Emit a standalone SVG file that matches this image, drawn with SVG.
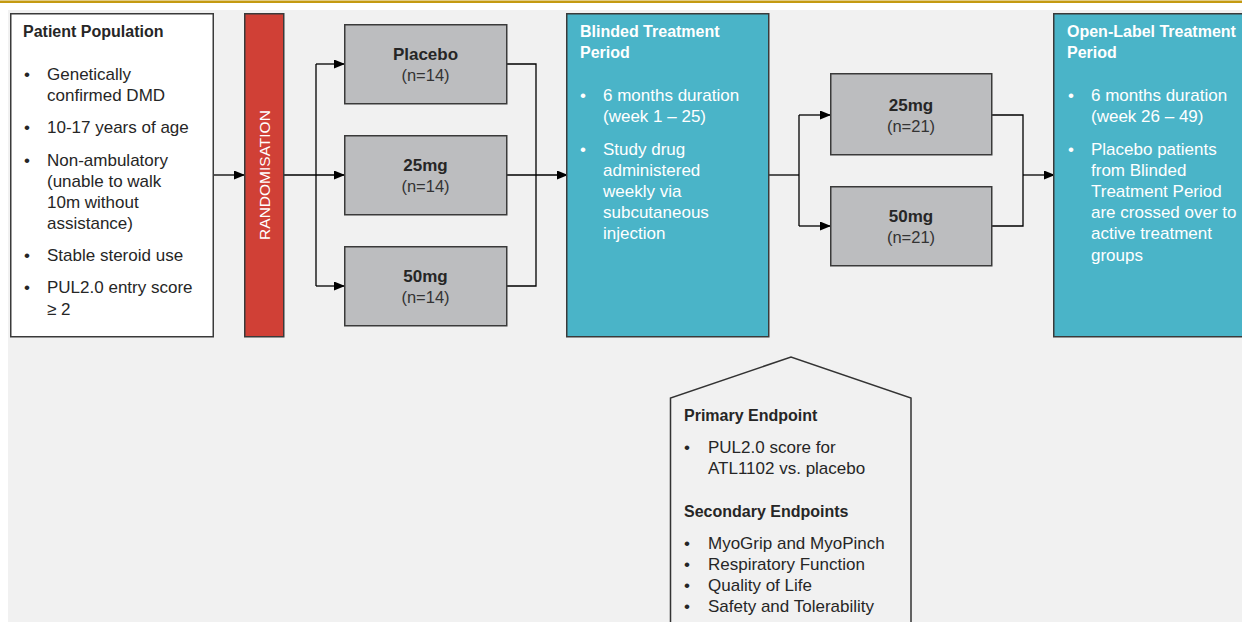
<svg xmlns="http://www.w3.org/2000/svg" width="1242" height="622" viewBox="0 0 1242 622">
<defs>
<marker id="ah" markerWidth="11" markerHeight="9" refX="10" refY="4.5" orient="auto" markerUnits="userSpaceOnUse">
<path d="M0,0 L11,4.5 L0,9 Z" fill="#000"/>
</marker>
<style>
text{font-family:"Liberation Sans",Arial,sans-serif;}
.t{font-size:16px;font-weight:bold;}
.b{font-size:17px;}
.dk{fill:#262626;}
.wh{fill:#ffffff;}
.box{stroke:#3a3a3a;stroke-width:1.5;}
.gbox{fill:#bcbdbf;stroke:#3a3a3a;stroke-width:1.5;}
.c{fill:none;stroke:#000;stroke-width:1.3;}
.a{marker-end:url(#ah);}
.m{text-anchor:middle;}
.num{font-size:16.5px;fill:#333;text-anchor:middle;}
.lbl{font-size:17px;font-weight:bold;fill:#262626;text-anchor:middle;}
</style>
</defs>
<rect x="0" y="0" width="1242" height="622" fill="#ffffff"/>
<rect x="0" y="0.5" width="1242" height="2.5" fill="#c49a12"/>
<rect x="8" y="10" width="1234" height="612" fill="#f1f1f1"/>

<g id="connectors">
<path class="c a" d="M213,175 H244"/>
<path class="c a" d="M284,175 H344"/>
<path class="c" d="M316,64 V286"/>
<path class="c a" d="M316,64 H344"/>
<path class="c a" d="M316,286 H344"/>
<path class="c" d="M507,64 H536 V286 H507"/>
<path class="c a" d="M507,175 H567"/>
<path class="c" d="M769,175 H799"/>
<path class="c" d="M799,115 V226"/>
<path class="c a" d="M799,115 H830"/>
<path class="c a" d="M799,226 H830"/>
<path class="c" d="M992,115 H1023 V226 H992"/>
<path class="c a" d="M1023,175 H1054"/>
</g>

<g id="patient-population">
<rect class="box" x="10.75" y="13.75" width="202.5" height="323" fill="#ffffff"/>
<text class="t dk" x="23" y="36.5">Patient Population</text>
<g class="b dk">
<text x="24" y="80">•</text><text x="47" y="80">Genetically</text>
<text x="47" y="101">confirmed DMD</text>
<text x="24" y="133">•</text><text x="47" y="133">10-17 years of age</text>
<text x="24" y="166">•</text><text x="47" y="166">Non-ambulatory</text>
<text x="47" y="187">(unable to walk</text>
<text x="47" y="208">10m without</text>
<text x="47" y="229">assistance)</text>
<text x="24" y="261">•</text><text x="47" y="261">Stable steroid use</text>
<text x="24" y="293">•</text><text x="47" y="293">PUL2.0 entry score</text>
<text x="47" y="315">≥ 2</text>
</g>
</g>

<g id="randomisation">
<rect class="box" x="244.75" y="13.75" width="39" height="323" fill="#d04036"/>
<text class="wh m" font-size="15.5" transform="translate(269.5,175) rotate(-90)">RANDOMISATION</text>
</g>

<g id="placebo">
<rect class="gbox" x="344.75" y="24.75" width="162" height="79"/>
<text class="lbl" x="425.5" y="60">Placebo</text>
<text class="num" x="425.5" y="81">(n=14)</text>
</g>
<g id="dose25-blinded">
<rect class="gbox" x="344.75" y="135.75" width="162" height="79"/>
<text class="lbl" x="425.5" y="171">25mg</text>
<text class="num" x="425.5" y="192">(n=14)</text>
</g>
<g id="dose50-blinded">
<rect class="gbox" x="344.75" y="246.75" width="162" height="79"/>
<text class="lbl" x="425.5" y="282">50mg</text>
<text class="num" x="425.5" y="303">(n=14)</text>
</g>

<g id="blinded-period">
<rect class="box" x="566.75" y="13.75" width="202" height="323" fill="#4ab4c8"/>
<text class="t wh" x="580" y="36.5">Blinded Treatment</text>
<text class="t wh" x="580" y="58">Period</text>
<g class="b wh">
<text x="580" y="101">•</text><text x="603" y="101">6 months duration</text>
<text x="603" y="122">(week 1 – 25)</text>
<text x="580" y="155">•</text><text x="603" y="155">Study drug</text>
<text x="603" y="176">administered</text>
<text x="603" y="197">weekly via</text>
<text x="603" y="218">subcutaneous</text>
<text x="603" y="239">injection</text>
</g>
</g>

<g id="dose25-open">
<rect class="gbox" x="830.75" y="73.75" width="161" height="81"/>
<text class="lbl" x="911" y="110.5">25mg</text>
<text class="num" x="911" y="131.5">(n=21)</text>
</g>
<g id="dose50-open">
<rect class="gbox" x="830.75" y="186.75" width="161" height="79"/>
<text class="lbl" x="911" y="222">50mg</text>
<text class="num" x="911" y="243">(n=21)</text>
</g>

<g id="open-label-period">
<rect class="box" x="1053.75" y="13.75" width="200" height="323" fill="#4ab4c8"/>
<text class="t wh" x="1067" y="36.5">Open-Label Treatment</text>
<text class="t wh" x="1067" y="58">Period</text>
<g class="b wh">
<text x="1068" y="101">•</text><text x="1091" y="101">6 months duration</text>
<text x="1091" y="122">(week 26 – 49)</text>
<text x="1068" y="155">•</text><text x="1091" y="155">Placebo patients</text>
<text x="1091" y="176">from Blinded</text>
<text x="1091" y="197">Treatment Period</text>
<text x="1091" y="218">are crossed over to</text>
<text x="1091" y="239">active treatment</text>
<text x="1091" y="261">groups</text>
</g>
</g>

<g id="endpoints">
<path d="M670.5,626 V398 L791,357 L911,398 V626" fill="#f1f1f1" stroke="#333" stroke-width="1.5"/>
<text class="t dk" x="684" y="421">Primary Endpoint</text>
<g class="b dk">
<text x="684" y="453">•</text><text x="708" y="453">PUL2.0 score for</text>
<text x="708" y="474">ATL1102 vs. placebo</text>
</g>
<text class="t dk" x="684" y="517">Secondary Endpoints</text>
<g class="b dk">
<text x="684" y="549">•</text><text x="708" y="549">MyoGrip and MyoPinch</text>
<text x="684" y="570">•</text><text x="708" y="570">Respiratory Function</text>
<text x="684" y="591">•</text><text x="708" y="591">Quality of Life</text>
<text x="684" y="612">•</text><text x="708" y="612">Safety and Tolerability</text>
</g>
</g>
</svg>
